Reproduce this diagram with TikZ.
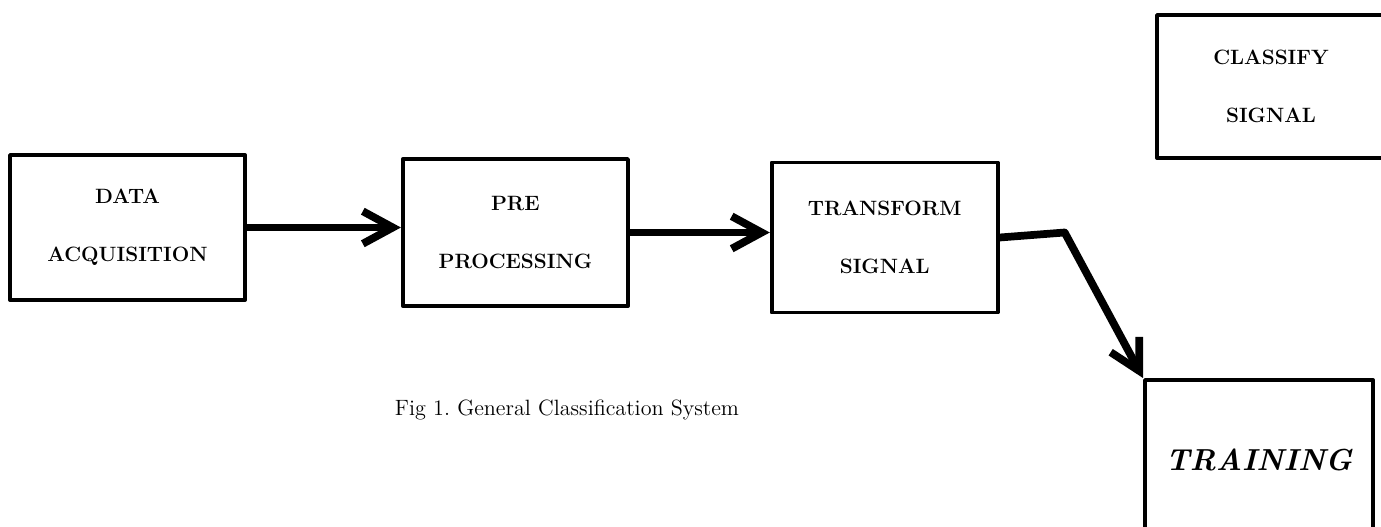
\documentclass[tikz,border=0pt]{standalone}
\usepackage{tikz}
\usetikzlibrary{positioning,arrows.meta}

\begin{document}
\begin{tikzpicture}[font=\fontsize{11.8pt}{14pt}\selectfont\bfseries,>={Straight Barb[length=6mm,width=6.5mm]},node distance=5mm]
\tikzstyle{block}=[draw,line width=2.2pt,line join=round,minimum width=4.6cm,
  minimum height=2.9cm,align=center,inner sep=2pt]
\tikzstyle{flow}=[line width=4.4pt,line join=round]

\useasboundingbox (0,0) rectangle (27.62,-10.54);

\node[block,minimum width=4.7cm] (data) at (2.55,-4.55) {DATA\\[19pt]ACQUISITION};
\node[block,minimum width=4.5cm,minimum height=2.94cm,right=3.08cm of data,yshift=-1mm] (pre)
  {PRE\\[19pt]PROCESSING};
\node[block,minimum width=4.52cm,minimum height=3cm,right=2.8cm of pre,yshift=-1mm] (trans)
  {TRANSFORM\\[19pt]SIGNAL};
\node[block,minimum width=4.56cm,minimum height=2.86cm] (classify) at (25.42,-1.73)
  {CLASSIFY\\[19pt]SIGNAL};
\node[block,minimum width=4.56cm,minimum height=3.2cm,
  font=\LARGE\bfseries\itshape,yshift=1.5mm] (train) at (25.18,-9.35) {TRAINING};

\node[font=\fontsize{12.6pt}{15pt}\selectfont\mdseries] (caption) at (11.34,-8.2)
  {Fig 1.\ General Classification System};

\coordinate[xshift=1.3cm,yshift=1mm] (bend) at (trans.east);

\draw[flow,->] (data.east) -- (data.east -| pre.west);
\draw[flow,->] (pre.east) -- (pre.east -| trans.west);
\draw[flow,->] (trans.east) -- (bend) -- (train.north west);
\end{tikzpicture}
\end{document}
